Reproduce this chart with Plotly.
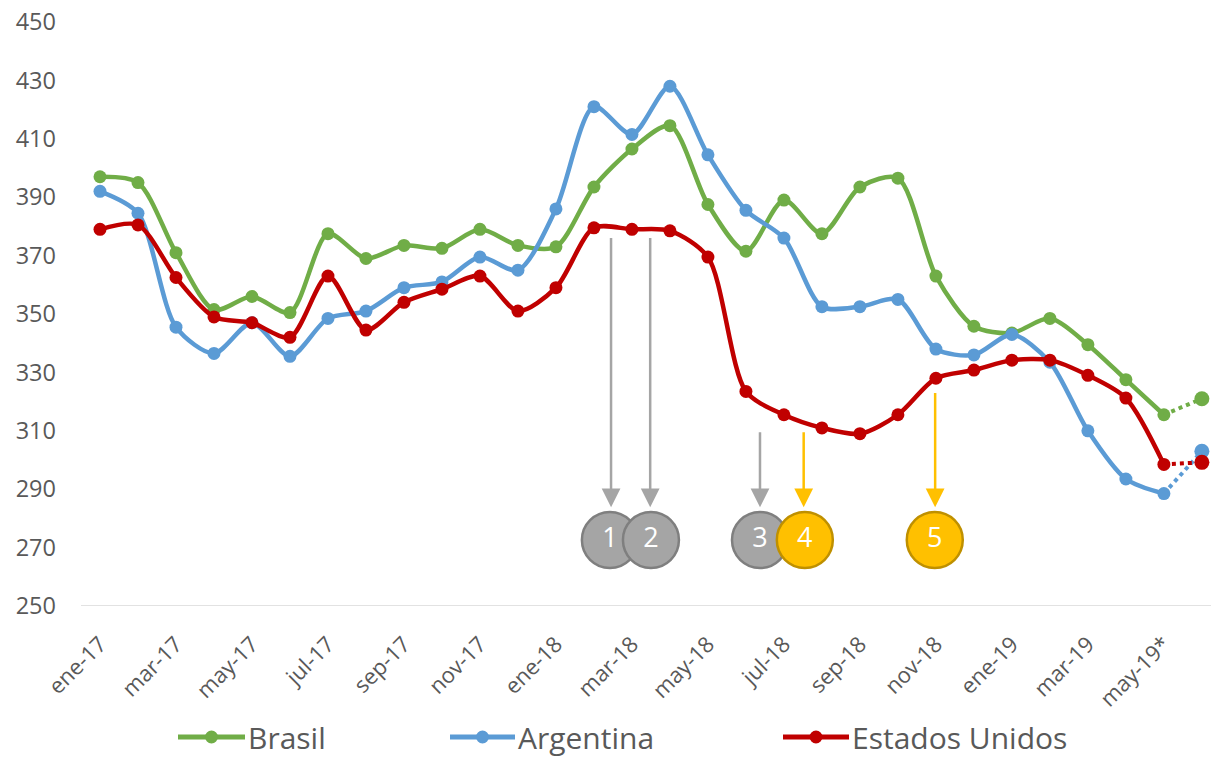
import plotly.graph_objects as go

months = ["ene-17", "feb-17", "mar-17", "abr-17", "may-17", "jun-17", "jul-17", "ago-17",
          "sep-17", "oct-17", "nov-17", "dic-17", "ene-18", "feb-18", "mar-18", "abr-18",
          "may-18", "jun-18", "jul-18", "ago-18", "sep-18", "oct-18", "nov-18", "dic-18",
          "ene-19", "feb-19", "mar-19", "abr-19", "may-19*", "jun-19*"]

brasil = [397, 395, 371, 351.5, 356, 350.5, 377.5, 369, 373.5, 372.5, 379, 373.5, 373,
          393.5, 406.5, 414.5, 387.5, 371.5, 389, 377.5, 393.5, 396.5, 363, 345.8, 343.5,
          348.5, 339.5, 327.5, 315.5, 321]
argentina = [392, 384.5, 345.5, 336.5, 347, 335.5, 348.5, 351, 359, 361, 369.5, 365, 386,
             421, 411.5, 428, 404.5, 385.5, 376, 352.5, 352.5, 355, 338, 336, 343, 333.5,
             310, 293.5, 288.5, 303]
eeuu = [379, 380.5, 362.5, 349, 347, 342, 363, 344.5, 354, 358.5, 363, 351, 359, 379.5,
        379, 378.5, 369.5, 323.5, 315.5, 311, 309, 315.5, 328, 330.8, 334.2, 334.2, 329,
        321.2, 298.5, 299.2]

series_names = ["Brasil", "Argentina", "Estados Unidos"]
series_colors = ["#70AD47", "#5B9BD5", "#C00000"]

# numbered event markers: label, x (month index), arrow top value
event_labels = ["1", "2", "3", "4", "5"]
event_x = [13.45, 14.48, 17.37, 18.52, 21.98]
event_top = [376.5, 376.5, 310, 310, 323.5]
event_colors = ["#A5A5A5", "#A5A5A5", "#A5A5A5", "#FFC000", "#FFC000"]
event_borders = ["#7F7F7F", "#7F7F7F", "#7F7F7F", "#BF9000", "#BF9000"]
event_circle_x = [13.42, 14.5, 17.37, 18.55, 21.97]
circle_y = 272.6
arrow_tip = 283.8

W, H = 1211, 758
ML, MR, MT, MB = 81, 0, 22, 152
PW, PH = W - ML - MR, H - MT - MB


def px_to_paper_x(px):
    return (px - ML) / PW


def px_to_paper_y(py):
    return (H - MB - py) / PH


xs = list(range(len(months)))
n_solid = len(months) - 1

fig = go.Figure()
for name, vals, col in zip(series_names, [brasil, argentina, eeuu], series_colors):
    fig.add_trace(go.Scatter(
        x=xs[:n_solid], y=vals[:n_solid], mode="lines+markers", name=name,
        line=dict(color=col, width=4.5, shape="spline", smoothing=0.8),
        marker=dict(size=13, color=col), showlegend=False, cliponaxis=False))
for name, vals, col in zip(series_names, [brasil, argentina, eeuu], series_colors):
    fig.add_trace(go.Scatter(
        x=xs[n_solid - 1:], y=vals[n_solid - 1:], mode="lines", showlegend=False,
        line=dict(color=col, width=4, dash="dot"), cliponaxis=False))
    fig.add_trace(go.Scatter(
        x=xs[n_solid:], y=vals[n_solid:], mode="markers", showlegend=False,
        marker=dict(size=15, color=col, opacity=1), cliponaxis=False))

# arrows
for xa, top, col in zip(event_x, event_top, event_colors):
    fig.add_annotation(x=xa, y=arrow_tip, ax=xa, ay=top, xref="x", yref="y",
                       axref="x", ayref="y", showarrow=True, arrowhead=2,
                       arrowsize=1.5, arrowwidth=2.5, arrowcolor=col, text="")

# circles with numbers (drawn in order so later ones overlap earlier ones)
for lab, cx, col, bcol in zip(event_labels, event_circle_x, event_colors, event_borders):
    fig.add_trace(go.Scatter(
        x=[cx], y=[circle_y], mode="markers+text", text=[lab], showlegend=False,
        textposition="middle center", textfont=dict(color="white", size=27, family="Open Sans"),
        marker=dict(size=56, color=col, line=dict(color=bcol, width=2.5)),
        cliponaxis=False, hoverinfo="skip"))

tick_idx = xs[::2][:15]
fig.update_xaxes(
    range=[-0.5, 29.24], tickmode="array", tickvals=tick_idx,
    ticktext=[months[i] for i in tick_idx], tickangle=-45,
    tickfont=dict(family="Open Sans", size=22, color="#595959"),
    showgrid=False, zeroline=False, showline=False, ticks="", ticklabelstandoff=20)
fig.update_yaxes(
    range=[250, 450], tickvals=list(range(250, 451, 20)), showgrid=False,
    zeroline=False, showline=False, ticks="",
    tickfont=dict(family="Open Sans", size=23.5, color="#595959"), ticklabelstandoff=24)

# baseline at 250
fig.add_shape(type="line", xref="paper", yref="y", x0=0, x1=1, y0=250, y1=250,
              line=dict(color="#D9D9D9", width=1.5), layer="below")

# manual legend
leg_line = [(178, 245), (450, 515), (783, 849)]
leg_y = 737
for name, col, (x0, x1) in zip(series_names, series_colors, leg_line):
    fig.add_shape(type="line", xref="paper", yref="paper",
                  x0=px_to_paper_x(x0), x1=px_to_paper_x(x1),
                  y0=px_to_paper_y(leg_y), y1=px_to_paper_y(leg_y),
                  line=dict(color=col, width=5))
    cx = (x0 + x1) / 2
    fig.add_shape(type="circle", xref="paper", yref="paper",
                  x0=px_to_paper_x(cx - 6.5), x1=px_to_paper_x(cx + 6.5),
                  y0=px_to_paper_y(leg_y + 6.5), y1=px_to_paper_y(leg_y - 6.5),
                  fillcolor=col, line=dict(color=col, width=0))
    fig.add_annotation(xref="paper", yref="paper", x=px_to_paper_x(x1 + 1),
                       y=px_to_paper_y(leg_y), xanchor="left", yanchor="middle",
                       text=name, showarrow=False,
                       font=dict(family="Open Sans", size=30, color="#595959"))

fig.update_layout(
    width=W, height=H, margin=dict(l=ML, r=MR, t=MT, b=MB),
    plot_bgcolor="white", paper_bgcolor="white", showlegend=False)

fig.write_html("out.html")
